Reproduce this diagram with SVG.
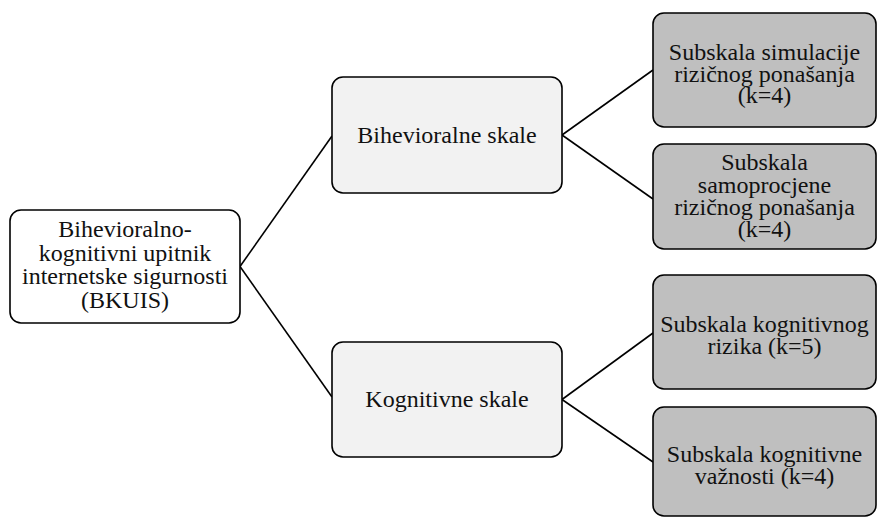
<svg xmlns="http://www.w3.org/2000/svg" width="877" height="518" viewBox="0 0 877 518">
<style>
.box{stroke:#000;stroke-width:1.6}
.root{fill:#fff}
.mid{fill:#f2f2f2}
.leaf{fill:#bfbfbf}
.conn{stroke:#000;stroke-width:1.6;fill:none}
.t{font-size:24px;fill:#111;text-anchor:middle}
</style>
<rect width="877" height="518" fill="#fff"/>
<g id="connectors">
<line class="conn" x1="240" y1="266.5" x2="332" y2="136"/>
<line class="conn" x1="240" y1="266.5" x2="332" y2="397"/>
<line class="conn" x1="562" y1="135" x2="653" y2="70"/>
<line class="conn" x1="562" y1="135" x2="653" y2="199"/>
<line class="conn" x1="562" y1="399.5" x2="653" y2="333"/>
<line class="conn" x1="562" y1="399.5" x2="653" y2="462"/>
</g>
<g font-family="'Liberation Serif', 'DejaVu Serif', serif">
<g id="root">
<rect class="box root" x="10" y="210" width="230" height="113" rx="11"/>
<text class="t" x="125" y="237">Bihevioralno-</text>
<text class="t" x="125" y="260.5">kognitivni upitnik</text>
<text class="t" x="125" y="284">internetske sigurnosti</text>
<text class="t" x="125" y="307.5">(BKUIS)</text>
</g>
<g id="bihevioralne">
<rect class="box mid" x="332" y="77" width="230" height="116" rx="11"/>
<text class="t" x="447" y="143">Bihevioralne skale</text>
</g>
<g id="kognitivne">
<rect class="box mid" x="332" y="342" width="230" height="115" rx="11"/>
<text class="t" x="447" y="407">Kognitivne skale</text>
</g>
<g id="simulacija">
<rect class="box leaf" x="653" y="13" width="223" height="114" rx="11"/>
<text class="t" x="764.5" y="59.5">Subskala simulacije</text>
<text class="t" x="764.5" y="81.5">rizičnog ponašanja</text>
<text class="t" x="764.5" y="103">(k=4)</text>
</g>
<g id="samoprocjena">
<rect class="box leaf" x="653" y="144" width="223" height="105" rx="11"/>
<text class="t" x="764.5" y="170">Subskala</text>
<text class="t" x="764.5" y="192.5">samoprocjene</text>
<text class="t" x="764.5" y="215">rizičnog ponašanja</text>
<text class="t" x="764.5" y="237">(k=4)</text>
</g>
<g id="kognitivni-rizik">
<rect class="box leaf" x="653" y="275" width="223" height="114" rx="11"/>
<text class="t" x="764.5" y="331.5">Subskala kognitivnog</text>
<text class="t" x="764.5" y="354">rizika (k=5)</text>
</g>
<g id="kognitivna-vaznost">
<rect class="box leaf" x="653" y="407" width="223" height="109" rx="11"/>
<text class="t" x="764.5" y="461.5">Subskala kognitivne</text>
<text class="t" x="764.5" y="483.5">važnosti (k=4)</text>
</g>
</g>
</svg>
